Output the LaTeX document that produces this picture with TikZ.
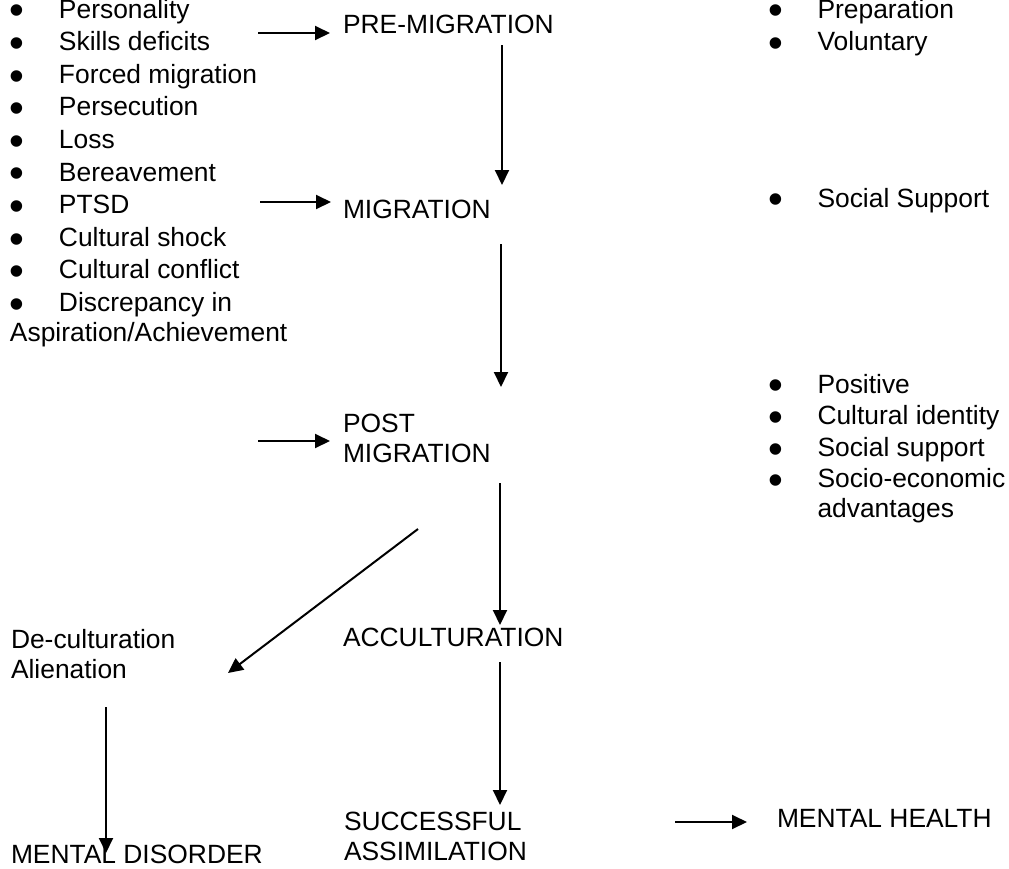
\documentclass[tikz,border=0pt]{standalone}
\usepackage{fontspec}
\setmainfont{Liberation Sans}
\usetikzlibrary{arrows.meta}

\newcommand{\stack}[1]{\begin{tabular}[t]{@{}l@{}}#1\end{tabular}}
\newcommand{\blist}[1]{\begin{tabular}[t]{@{}p{24.5pt}@{}l@{}}#1\end{tabular}}
\newcommand{\bul}{\smash{\raisebox{-0.26em}{\scalebox{1.6}{\textbullet}}}}
\tikzset{txt/.style={anchor=base west,inner sep=0pt,font=\fontsize{13.2}{15}\selectfont}}

\begin{document}
\begin{tikzpicture}[->,>={Triangle[length=7.5pt,width=7pt]},x=0.5pt,y=-0.5pt,line width=1pt]

    \useasboundingbox (0,0) rectangle (1009,869);

    % stages
    \node[txt] (pre) at (342,33) {PRE-MIGRATION};
    \node[txt] (mig) at (342,218) {MIGRATION};
    \node[txt] (post) at (342,432) {\stack{POST\\MIGRATION}};
    \node[txt] (acc) at (342,646) {ACCULTURATION};
    \node[txt] (succ) at (343,830) {\stack{SUCCESSFUL\\ASSIMILATION}};
    \node[txt] (health) at (776,827) {MENTAL HEALTH};
    \node[txt] (decult) at (10,648) {\stack{De-culturation\\Alienation}};
    \node[txt] (disorder) at (10,863) {MENTAL DISORDER};

    % factors
    \node[txt] (neg) at (9,18) {\blist{\bul & Personality\\[1.3pt]
        \bul & Skills deficits\\[1.3pt]
        \bul & Forced migration\\[1.3pt]
        \bul & Persecution\\[1.3pt]
        \bul & Loss\\[1.3pt]
        \bul & Bereavement\\[1.3pt]
        \bul & PTSD\\[1.3pt]
        \bul & Cultural shock\\[1.3pt]
        \bul & Cultural conflict\\[1.3pt]
        \bul & Discrepancy in\\
        \multicolumn{2}{@{}l@{}}{Aspiration/Achievement}}};
    \node[txt] (prep) at (767.5,18) {\blist{\bul & Preparation\\[1.3pt]
        \bul & Voluntary}};
    \node[txt] (soc) at (767.5,207) {\blist{\bul & Social Support}};
    \node[txt] (pos) at (767.5,393) {\blist{\bul & Positive\\[0.8pt]
        \bul & Cultural identity\\[0.8pt]
        \bul & Social support\\[0.8pt]
        \bul & Socio-economic\\
        & advantages}};

    % free ends of the arrows
    \coordinate (a1) at (258,33);  \coordinate (b1) at (330,33);
    \coordinate (a2) at (260,202); \coordinate (b2) at (331,202);
    \coordinate (a3) at (258,441); \coordinate (b3) at (330,441);
    \coordinate (a4) at (502,45);  \coordinate (b4) at (502,185);
    \coordinate (a5) at (501,244); \coordinate (b5) at (501,387);
    \coordinate (a6) at (500,483); \coordinate (b6) at (500,625);
    \coordinate (a7) at (418,529); \coordinate (b7) at (228,673);
    \coordinate (a8) at (500,662); \coordinate (b8) at (500,805);
    \coordinate (a9) at (106,707); \coordinate (b9) at (106,853);
    \coordinate (a10) at (675,822); \coordinate (b10) at (747,822);

    \path
    (a1) edge (b1)
    (a2) edge (b2)
    (a3) edge (b3)
    (a4) edge (b4)
    (a5) edge (b5)
    (a6) edge (b6)
    (a7) edge (b7)
    (a8) edge (b8)
    (a9) edge (b9)
    (a10) edge (b10);
\end{tikzpicture}
\end{document}
